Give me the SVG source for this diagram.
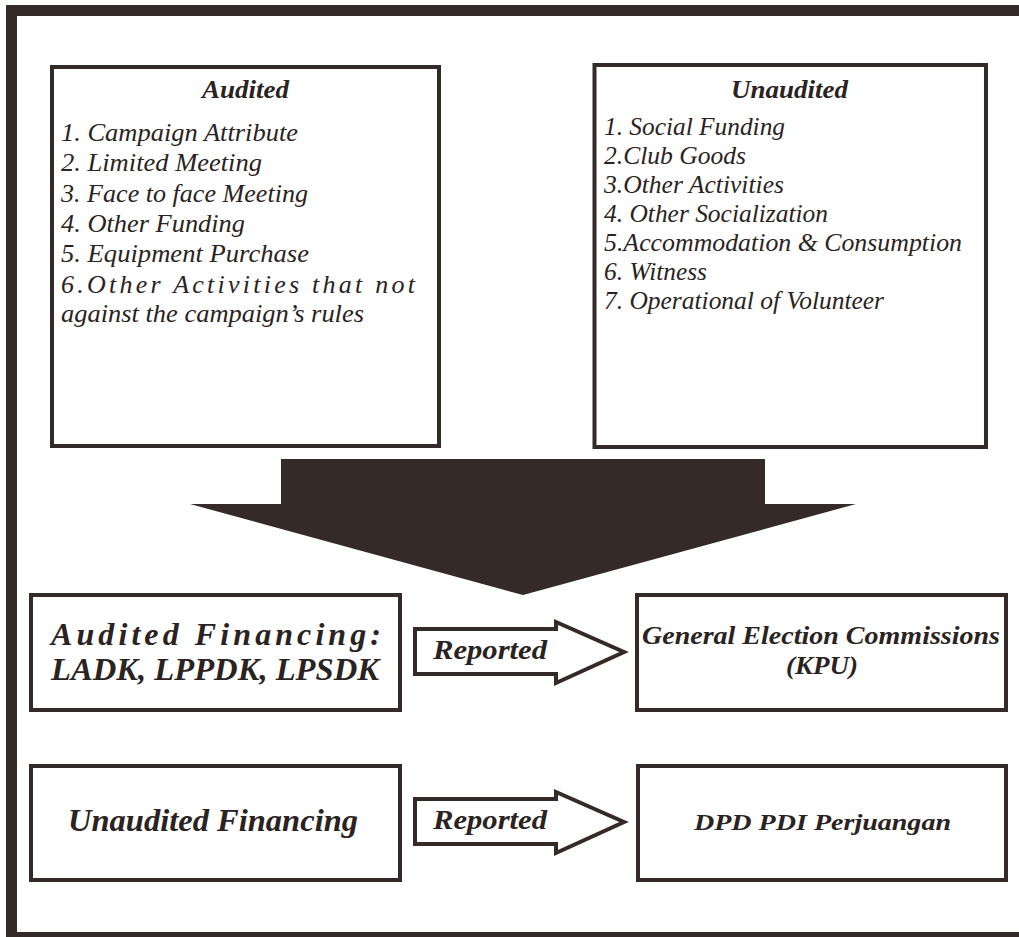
<svg xmlns="http://www.w3.org/2000/svg" width="1019" height="937" viewBox="0 0 1019 937">
<style>
.box{fill:#fff;stroke:#342a28;stroke-width:4}
.t{font-family:"Liberation Serif","Times New Roman",serif;font-style:italic;fill:#2a2321}
.li{font-size:26px}
.ti{font-size:26px;font-weight:bold}
.b{font-weight:bold}
.hol{fill:#fff;stroke:#342a28;stroke-width:4;stroke-linejoin:miter}
</style>
<rect width="1019" height="937" fill="#fff"/>
<rect id="frame" x="11.5" y="10.5" width="1030" height="927" fill="none" stroke="#342a28" stroke-width="11"/>

<g id="audited">
<rect class="box" x="52" y="67" width="387" height="379"/>
<text class="t ti" x="202" y="98" textLength="87" lengthAdjust="spacingAndGlyphs">Audited</text>
<text class="t li" x="61" y="141" textLength="237" lengthAdjust="spacingAndGlyphs">1. Campaign Attribute</text>
<text class="t li" x="61" y="171" textLength="201" lengthAdjust="spacingAndGlyphs">2. Limited Meeting</text>
<text class="t li" x="61" y="202" textLength="247" lengthAdjust="spacingAndGlyphs">3. Face to face Meeting</text>
<text class="t li" x="61" y="232" textLength="184" lengthAdjust="spacingAndGlyphs">4. Other Funding</text>
<text class="t li" x="61" y="262" textLength="248" lengthAdjust="spacingAndGlyphs">5. Equipment Purchase</text>
<text class="t li" x="61" y="293" textLength="354" lengthAdjust="spacing">6.Other Activities that not</text>
<text class="t li" x="61" y="322" textLength="303" lengthAdjust="spacingAndGlyphs">against the campaign’s rules</text>
</g>

<g id="unaudited">
<rect class="box" x="594.5" y="65" width="391.5" height="382"/>
<text class="t ti" x="731" y="98" textLength="117" lengthAdjust="spacingAndGlyphs">Unaudited</text>
<text class="t li" x="604" y="135" textLength="181" lengthAdjust="spacingAndGlyphs">1. Social Funding</text>
<text class="t li" x="604" y="164" textLength="142" lengthAdjust="spacingAndGlyphs">2.Club Goods</text>
<text class="t li" x="604" y="193" textLength="180" lengthAdjust="spacingAndGlyphs">3.Other Activities</text>
<text class="t li" x="604" y="222" textLength="224" lengthAdjust="spacingAndGlyphs">4. Other Socialization</text>
<text class="t li" x="604" y="251" textLength="358" lengthAdjust="spacingAndGlyphs">5.Accommodation &amp; Consumption</text>
<text class="t li" x="604" y="280" textLength="103" lengthAdjust="spacingAndGlyphs">6. Witness</text>
<text class="t li" x="604" y="309" textLength="280" lengthAdjust="spacingAndGlyphs">7. Operational of Volunteer</text>
</g>

<g id="connectors">
<polygon id="bigArrow" points="281,459 765,459 765,504 856,504 523,595 190,504 281,504" fill="#342a28"/>
<polygon class="hol" points="415,629 556,629 556,622 624,652 556,683 556,674 415,674"/>
<polygon class="hol" points="415,799 556,799 556,792 624,822 556,853 556,844 415,844"/>
<text class="t b" x="433" y="659" font-size="27" textLength="114" lengthAdjust="spacingAndGlyphs">Reported</text>
<text class="t b" x="433" y="829" font-size="27" textLength="114" lengthAdjust="spacingAndGlyphs">Reported</text>
</g>

<g id="auditedFinancing">
<rect class="box" x="31" y="595" width="369" height="115"/>
<text class="t b" x="51" y="645" font-size="32" textLength="330" lengthAdjust="spacing">Audited Financing:</text>
<text class="t b" x="51" y="680" font-size="32" textLength="328" lengthAdjust="spacingAndGlyphs">LADK, LPPDK, LPSDK</text>
</g>

<g id="kpu">
<rect class="box" x="637" y="595" width="369" height="115"/>
<text class="t b" x="642" y="644" font-size="26" textLength="358" lengthAdjust="spacingAndGlyphs">General Election Commissions</text>
<text class="t b" x="786" y="674" font-size="26" textLength="72" lengthAdjust="spacingAndGlyphs">(KPU)</text>
</g>

<g id="unauditedFinancing">
<rect class="box" x="31" y="766" width="369" height="114"/>
<text class="t b" x="68" y="831" font-size="32" textLength="290" lengthAdjust="spacingAndGlyphs">Unaudited Financing</text>
</g>

<g id="dpd">
<rect class="box" x="638" y="766" width="368" height="114"/>
<text class="t b" x="694" y="830" font-size="24" textLength="257" lengthAdjust="spacingAndGlyphs">DPD PDI Perjuangan</text>
</g>
</svg>
